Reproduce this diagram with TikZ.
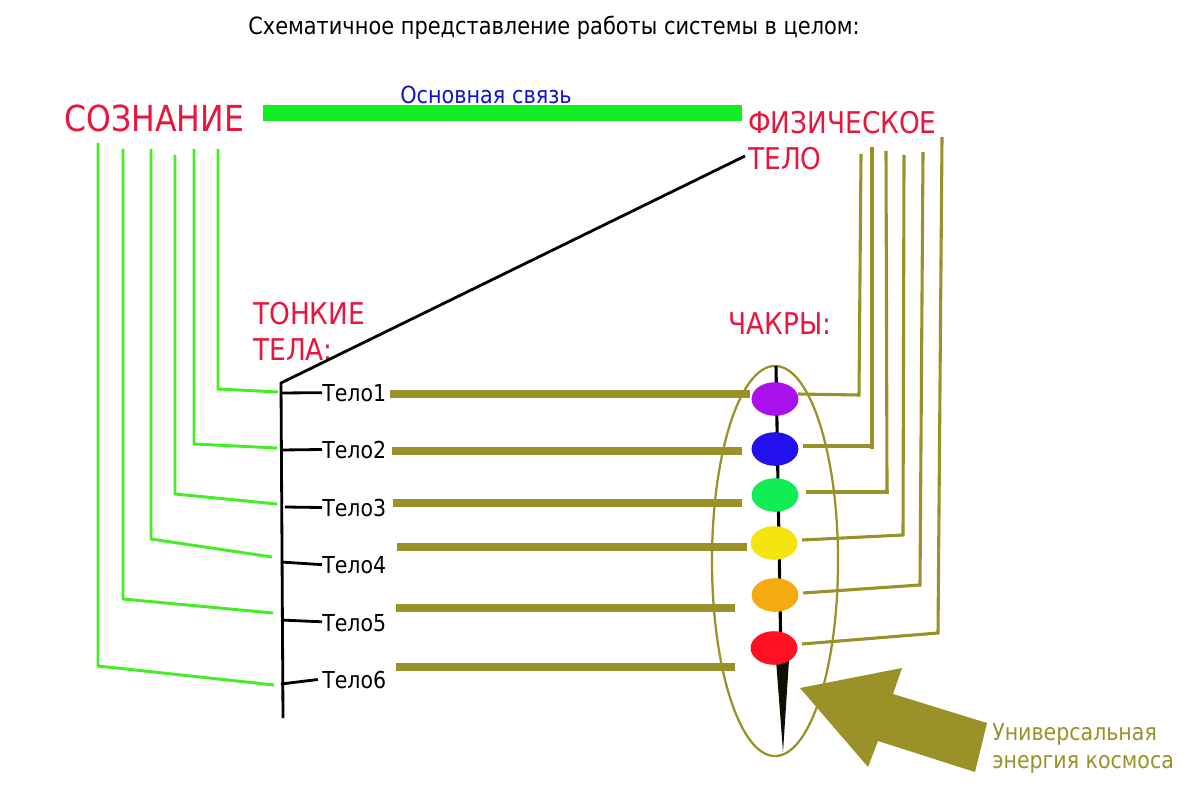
\documentclass[tikz,border=0pt]{standalone}
\usepackage{fontspec}
\setmainfont{DejaVu Sans}[FakeStretch=0.88]
\usetikzlibrary{shapes.geometric}
\definecolor{tred}{HTML}{E8163C}
\definecolor{tblue}{HTML}{1414CC}
\definecolor{barg}{HTML}{11EE22}
\definecolor{lineg}{HTML}{44EE22}
\definecolor{olv}{HTML}{9A9128}
\definecolor{cpurple}{HTML}{AA11EE}
\definecolor{cblue}{HTML}{2211EE}
\definecolor{cgreen}{HTML}{11EE55}
\definecolor{cyellow}{HTML}{F5E50F}
\definecolor{corange}{HTML}{F5AA10}
\definecolor{cred}{HTML}{FF1122}
\begin{document}
\begin{tikzpicture}[x=0.025cm,y=-0.025cm,
  lbl/.style={inner sep=0pt, anchor=base west},
  bigred/.style={lbl, text=tred, font=\fontsize{25.5pt}{27pt}\selectfont},
  midred/.style={lbl, text=tred, font=\fontsize{21.3pt}{24pt}\selectfont},
  body/.style={lbl, font=\fontsize{16.6pt}{20pt}\selectfont},
  gline/.style={draw=lineg, line width=2.1pt},
  oline/.style={draw=olv, line width=2.2pt},
  obar/.style={draw=olv, line width=5.7pt},
  bline/.style={draw=black, line width=2pt},
  chakra/.style={ellipse, draw=none, inner sep=0pt, minimum width=1.17cm, minimum height=0.84cm}
]
\useasboundingbox (0,0) rectangle (1200,800);
\fill[white] (0,0) rectangle (1200,800);

% texts
\node[lbl, font=\fontsize{16.9pt}{20pt}\selectfont] (title) at (248,35) {Схематичное представление работы системы в целом:};
\node[lbl, text=tblue, font=\fontsize{16.8pt}{20pt}\selectfont] (osn) at (400,104) {Основная связь};
\node[bigred] (soz) at (64,132) {СОЗНАНИЕ};
\node[midred] (fiz1) at (748,134) {ФИЗИЧЕСКОЕ};
\node[midred] (fiz2) at (748,170) {ТЕЛО};
\node[midred] (ton1) at (253,324) {ТОНКИЕ};
\node[midred] (ton2) at (253,360) {ТЕЛА:};
\node[midred] (chk) at (728,334) {ЧАКРЫ:};
\node[lbl, text=olv, font=\fontsize{16.6pt}{20pt}\selectfont] (uni1) at (992,740) {Универсальная};
\node[lbl, text=olv, font=\fontsize{16.6pt}{20pt}\selectfont] (uni2) at (992,768) {энергия космоса};

% main link bar
\fill[barg] (263,105) rectangle (742,121);

% body labels
\node[body] (t1) at (322,401) {Тело1};
\node[body] (t2) at (322,458) {Тело2};
\node[body] (t3) at (322,516) {Тело3};
\node[body] (t4) at (322,573) {Тело4};
\node[body] (t5) at (322,631) {Тело5};
\node[body] (t6) at (322,688) {Тело6};

% trunk and diagonal
\coordinate (trTop) at (281,383);
\coordinate (trBot) at (283,718);
\coordinate (fizEnd) at (745,156);
\draw[bline] (trBot) -- (trTop) -- (fizEnd);
\draw[bline] (281,393) -- (t1.west);
\draw[bline] (281,450) -- (t2.west);
\draw[bline] (285,507) -- (t3.west);
\draw[bline] (281,562) -- (t4.west);
\draw[bline] (281,620) -- ([yshift=0.6pt]t5.west);
\draw[bline] (281,684) -- ([xshift=-3pt]t6.west);

% green lines from consciousness
\draw[gline] (218,149) -- (218,389) -- (278,392);
\draw[gline] (194,149) -- (194,444) -- (277,448);
\draw[gline] (175,155) -- (175,494) -- (277,504);
\draw[gline] (151,149) -- (151,539) -- (272,557);
\draw[gline] (123,149) -- (123,599) -- (273,613);
\draw[gline] (98,143) -- (98,666) -- (274,685);

% aura ellipse
\node[ellipse, draw=olv, line width=1.6pt, inner sep=0pt, minimum width=3.15cm, minimum height=9.75cm] (aura) at (775,561) {};

% spine
\draw[black, line width=2.2pt] (776,366) -- (781,660);
\fill[black!90!olv] (776,660) -- (789,660) -- (783,752) -- cycle;

% chakras
\node[chakra, fill=cpurple] (c1) at (775,399) {};
\node[chakra, fill=cblue] (c2) at (775,449) {};
\node[chakra, fill=cgreen] (c3) at (775,495) {};
\node[chakra, fill=cyellow] (c4) at (774,543) {};
\node[chakra, fill=corange] (c5) at (775,595) {};
\node[chakra, fill=cred] (c6) at (774,648) {};

% olive bars from bodies to chakras
\draw[obar] (390,394) -- (750,394);
\draw[obar] (392,451) -- (742,451);
\draw[obar] (393,503) -- (742,503);
\draw[obar] (397,547) -- (747,547);
\draw[obar] (396,608) -- (735,608);
\draw[obar] (396,667) -- (735,667);

% olive lines from physical body
\draw[oline] (861,154) -- (859,395) -- (798,394);
\draw[oline] (872,147) -- (872,449);
\draw[oline] (803,446) -- (872,446);
\draw[oline] (886,151) -- (887,490);
\draw[oline] (806,492) -- (889,492);
\draw[oline] (904,155) -- (903,535) -- (802,540);
\draw[oline] (923,152) -- (920,585) -- (803,593);
\draw[oline] (942,137) -- (938,633) -- (802,644);

% cosmic energy arrow
\fill[olv] (800,688) -- (902,668) -- (893,694) -- (987,723) -- (975,772) -- (878,741) -- (868,767) -- cycle;
\end{tikzpicture}
\end{document}
